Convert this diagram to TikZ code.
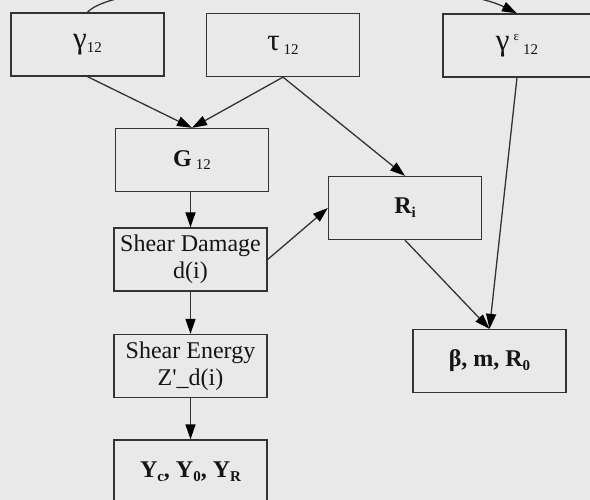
\documentclass[tikz,border=0pt]{standalone}
\usepackage{fontspec}
\setmainfont{Liberation Serif}
\usetikzlibrary{arrows.meta}
\definecolor{bg}{HTML}{E9E9E9}
\definecolor{ln}{HTML}{333333}
\definecolor{tx}{HTML}{151515}
\newcommand{\sbs}[1]{\raisebox{-0.35ex}{\fontsize{15}{15}\selectfont #1}}
\newcommand{\sps}[1]{\raisebox{0.9ex}{\fontsize{13}{13}\selectfont #1}}
\newcommand{\grk}[1]{{\fontsize{31}{31}\selectfont #1}}
\begin{document}
\begin{tikzpicture}[x=1pt,y=-1pt,
  box/.style={draw=ln, line width=1.3pt, fill=bg, minimum width=153pt, minimum height=63pt,
    inner sep=0pt, align=center, text=tx, font=\fontsize{24}{27}\selectfont},
  arr/.style={draw=ln, line width=1.3pt, -{Triangle[length=15pt,width=10pt,color=black]}}]
\useasboundingbox (0,0) rectangle (590,500);
\fill[bg] (0,0) rectangle (590,500);
\clip (0,0) rectangle (590,500);
\node[box] (g) at (87.5,44.5) {\grk{γ}\sbs{12}};
\node[box] (t) at (283,45) {\grk{τ}\,\sbs{12}};
\node[box, minimum width=148pt] (ge) at (517,45.5) {\grk{γ}\,\sps{ε}\,\sbs{12}};
\node[box] (G) at (192,160) {\textbf{G}\,\sbs{12}};
\node[box] (R) at (405,208) {\textbf{R\sbs{i}}};
\node[box] (sd) at (190.5,259.5) {Shear Damage\\d(i)};
\node[box] (se) at (190.5,366) {Shear Energy\\Z\textquotesingle\_d(i)};
\node[box] (y) at (190.5,471.5) {\textbf{Y\sbs{c}, Y\sbs{0}, Y\sbs{R}}};
\node[box] (b) at (489.5,361) {\textbf{β, m, R\sbs{0}}};
\draw[arr] (g.south) -- (G.north);
\draw[arr] (t.south) -- (G.north);
\draw[arr] (t.south) -- (R.north);
\draw[arr] (ge.south) -- (b.north);
\draw[arr] (R.south) -- (b.north);
\draw[arr] (sd.north |- G.south) -- (sd.north);
\draw[arr] (sd.east) -- (R.west);
\draw[arr] (sd.south) -- (se.north);
\draw[arr] (se.south) -- (y.north);
\draw[arr] (g.north) .. controls (120,-25) and (440,-25) .. (ge.north);
\end{tikzpicture}
\end{document}
